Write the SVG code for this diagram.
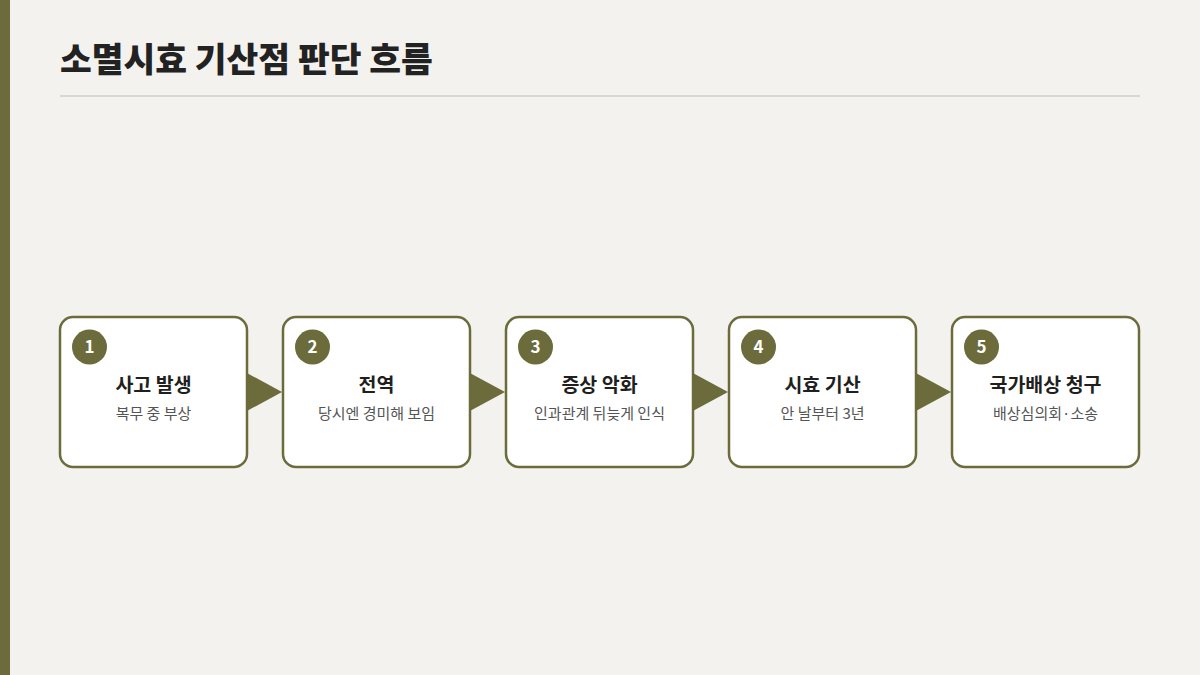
<svg xmlns="http://www.w3.org/2000/svg" width="1200" height="675" viewBox="0 0 1200 675">
<style>
.box{fill:#ffffff;stroke:#6b6b3b;stroke-width:2.5}
.badge{fill:#6b6b3b}
.num{font-family:"Noto Sans CJK KR","Noto Sans",sans-serif;font-size:17px;font-weight:700;fill:#ffffff;text-anchor:middle}
.ttl{font-family:"Noto Sans CJK KR",sans-serif;font-size:19.5px;font-weight:700;fill:#1f1f1f;text-anchor:middle}
.sub{font-family:"Noto Sans CJK KR",sans-serif;font-size:15px;fill:#555555;text-anchor:middle}
.arr{fill:#6b6b3b}
</style>
<rect width="1200" height="675" fill="#f3f2ee"/>
<rect x="0" y="0" width="10" height="675" fill="#6b6b3b"/>
<text x="60" y="72" font-family="'Noto Sans CJK KR',sans-serif" font-size="34.5" font-weight="900" fill="#222222">소멸시효 기산점 판단 흐름</text>
<rect x="60" y="95" width="1080" height="2" fill="#d9d8cd"/>
<g id="connectors">
<polygon class="arr" points="245,372 282,392 245,412"/>
<polygon class="arr" points="468,372 505,392 468,412"/>
<polygon class="arr" points="691,372 728,392 691,412"/>
<polygon class="arr" points="914,372 951,392 914,412"/>
</g>
<g id="node1">
<rect class="box" x="60" y="317" width="187" height="150" rx="13"/>
<circle class="badge" cx="89.5" cy="347" r="17.5"/>
<text class="num" x="89.5" y="353">1</text>
<text class="ttl" x="153.5" y="392">사고 발생</text>
<text class="sub" x="153.5" y="419">복무 중 부상</text>
</g>
<g id="node2">
<rect class="box" x="283" y="317" width="187" height="150" rx="13"/>
<circle class="badge" cx="312.5" cy="347" r="17.5"/>
<text class="num" x="312.5" y="353">2</text>
<text class="ttl" x="376.5" y="392">전역</text>
<text class="sub" x="376.5" y="419">당시엔 경미해 보임</text>
</g>
<g id="node3">
<rect class="box" x="506" y="317" width="187" height="150" rx="13"/>
<circle class="badge" cx="535.5" cy="347" r="17.5"/>
<text class="num" x="535.5" y="353">3</text>
<text class="ttl" x="599.5" y="392">증상 악화</text>
<text class="sub" x="599.5" y="419">인과관계 뒤늦게 인식</text>
</g>
<g id="node4">
<rect class="box" x="729" y="317" width="187" height="150" rx="13"/>
<circle class="badge" cx="758.5" cy="347" r="17.5"/>
<text class="num" x="758.5" y="353">4</text>
<text class="ttl" x="822.5" y="392">시효 기산</text>
<text class="sub" x="822.5" y="419">안 날부터 3년</text>
</g>
<g id="node5">
<rect class="box" x="952" y="317" width="187" height="150" rx="13"/>
<circle class="badge" cx="981.5" cy="347" r="17.5"/>
<text class="num" x="981.5" y="353">5</text>
<text class="ttl" x="1045.5" y="392">국가배상 청구</text>
<text class="sub" x="1045.5" y="419">배상심의회·소송</text>
</g>
</svg>
